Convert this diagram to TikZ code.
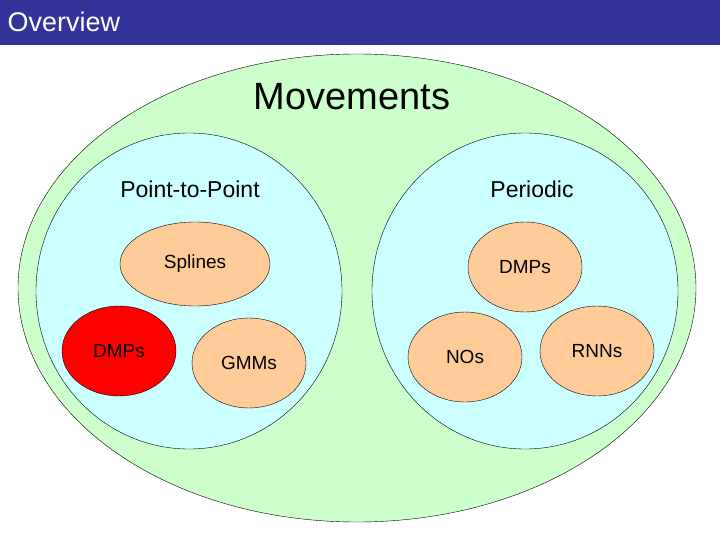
\documentclass[tikz,border=0pt]{standalone}
\usepackage{fontspec}
\setmainfont{Liberation Sans}
\usetikzlibrary{shapes.geometric}
\definecolor{barblue}{RGB}{51,51,153}
\definecolor{outergreen}{RGB}{204,255,204}
\definecolor{innercyan}{RGB}{204,255,255}
\definecolor{leafpeach}{RGB}{255,204,153}
\tikzset{
  blob/.style={ellipse, draw=black, inner sep=0pt},
  leaf/.style={blob, fill=leafpeach, minimum width=114pt, minimum height=90pt, font=\fontsize{19}{21}\selectfont},
}
\begin{document}
\begin{tikzpicture}[x=1pt, y=-1pt]
\useasboundingbox (0,0) rectangle (720,540);
\fill[barblue] (0,0) rectangle (720,45);
\node[anchor=west, text=white, font=\fontsize{27}{30}\selectfont] (title) at (4,22) {Overview};

\node[blob, fill=outergreen, minimum width=678pt, minimum height=468pt] (movements) at (357,288) {};
\node[blob, fill=innercyan, minimum width=306pt, minimum height=316pt] (p2p) at (189,291) {};
\node[blob, fill=innercyan, minimum width=306pt, minimum height=316pt] (periodic) at (525,291) {};

\node[font=\fontsize{38}{42}\selectfont] (movlabel) at (352,97) {Movements};
\node[font=\fontsize{23}{26}\selectfont] (p2plabel) at (190,189) {Point-to-Point};
\node[font=\fontsize{23}{26}\selectfont] (perlabel) at (532,189) {Periodic};

\node[leaf, minimum width=150pt, minimum height=84pt] (splines) at (195,264) {Splines};
\node[leaf, fill=red] (dmpsleft) at (119,351) {DMPs};
\node[leaf] (gmms) at (249,363) {GMMs};
\node[leaf] (dmpsright) at (525,267) {DMPs};
\node[leaf] (nos) at (465,357) {NOs};
\node[leaf] (rnns) at (597,351) {RNNs};
\end{tikzpicture}
\end{document}
